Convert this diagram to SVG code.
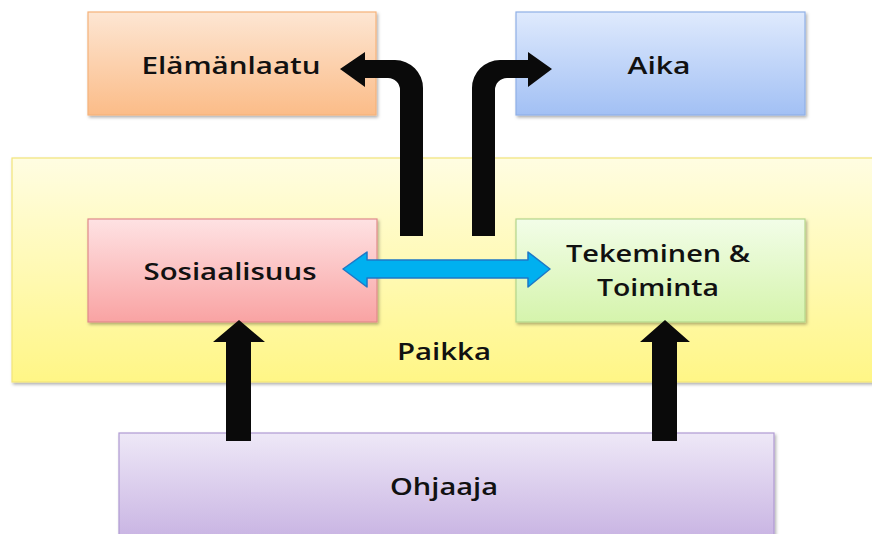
<svg xmlns="http://www.w3.org/2000/svg" width="872" height="534" viewBox="0 0 872 534">
<style>
.t{font-family:"Open Sans","Liberation Sans",sans-serif;font-weight:600;font-size:23px;fill:#111;text-anchor:middle}
.box{stroke-width:1.2}
.blk{fill:#0a0a0a}
</style>
<defs>
<filter id="sh" x="-5%" y="-5%" width="110%" height="115%">
<feDropShadow dx="1.5" dy="2" stdDeviation="1.5" flood-color="#000" flood-opacity="0.3"/>
</filter>
<linearGradient id="gO" x1="0" y1="0" x2="0" y2="1"><stop offset="0" stop-color="#fde6d3"/><stop offset="1" stop-color="#fbbc88"/></linearGradient>
<linearGradient id="gB" x1="0" y1="0" x2="0" y2="1"><stop offset="0" stop-color="#dfeafd"/><stop offset="1" stop-color="#a2c0f4"/></linearGradient>
<linearGradient id="gY" x1="0" y1="0" x2="0" y2="1"><stop offset="0" stop-color="#fffde2"/><stop offset="1" stop-color="#fff686"/></linearGradient>
<linearGradient id="gR" x1="0" y1="0" x2="0" y2="1"><stop offset="0" stop-color="#fee2e3"/><stop offset="1" stop-color="#f9a3a3"/></linearGradient>
<linearGradient id="gG" x1="0" y1="0" x2="0" y2="1"><stop offset="0" stop-color="#f2fde8"/><stop offset="1" stop-color="#d5f4ac"/></linearGradient>
<linearGradient id="gP" x1="0" y1="0" x2="0" y2="1"><stop offset="0" stop-color="#eee8f7"/><stop offset="1" stop-color="#c7b2e2"/></linearGradient>
</defs>

<g id="paikka">
<rect x="12" y="158" width="870" height="224" fill="url(#gY)" stroke="#f2e47a" class="box" filter="url(#sh)"/>
<text class="t" x="444" y="360" textLength="94" lengthAdjust="spacingAndGlyphs" font-weight="500">Paikka</text>
</g>

<g id="elamanlaatu">
<rect x="88" y="12" width="288" height="103" fill="url(#gO)" stroke="#f6b27a" class="box" filter="url(#sh)"/>
<text class="t" x="231" y="74" textLength="179" lengthAdjust="spacingAndGlyphs" font-weight="700">Elämänlaatu</text>
</g>

<g id="aika">
<rect x="516" y="12" width="289" height="103" fill="url(#gB)" stroke="#8fb0e6" class="box" filter="url(#sh)"/>
<text class="t" x="659" y="74" textLength="63" lengthAdjust="spacingAndGlyphs" font-weight="700">Aika</text>
</g>

<g id="sosiaalisuus">
<rect x="88" y="219" width="289" height="103" fill="url(#gR)" stroke="#e08a8a" class="box" filter="url(#sh)"/>
<text class="t" x="230" y="280" textLength="173" lengthAdjust="spacingAndGlyphs">Sosiaalisuus</text>
</g>

<g id="tekeminen">
<rect x="516" y="219" width="289" height="103" fill="url(#gG)" stroke="#b4d68a" class="box" filter="url(#sh)"/>
<text class="t" x="658" y="262" textLength="184" lengthAdjust="spacingAndGlyphs">Tekeminen &amp;</text>
<text class="t" x="658" y="296" textLength="122" lengthAdjust="spacingAndGlyphs">Toiminta</text>
</g>

<g id="ohjaaja">
<rect x="119" y="433" width="655" height="110" fill="url(#gP)" stroke="#b09ad2" class="box" filter="url(#sh)"/>
<text class="t" x="444" y="495" textLength="108" lengthAdjust="spacingAndGlyphs" font-weight="700">Ohjaaja</text>
</g>

<g id="connectors">
<path class="blk" d="M400,236 L400,90 A12,12 0 0 0 388,78 L365,78 L365,87 L340,69 L365,52 L365,60 L395,60 A28,28 0 0 1 423,88 L423,236 Z"/>
<path class="blk" d="M472,236 L472,88 A28,28 0 0 1 500,60 L528,60 L528,52 L552,69 L528,87 L528,78 L507,78 A12,12 0 0 0 495,90 L495,236 Z"/>
<path class="blk" d="M226,441 L226,342 L213,342 L239,320 L265,342 L251,342 L251,441 Z"/>
<path class="blk" d="M652,441 L652,342 L640,342 L665,320 L690,342 L677,342 L677,441 Z"/>
<path d="M343,269 L367,252 L367,260 L528,260 L528,252 L550,269 L528,287 L528,278 L367,278 L367,287 Z" fill="#00b0f0" stroke="#1e78c6" stroke-width="1.5" stroke-linejoin="round"/>
</g>
</svg>
